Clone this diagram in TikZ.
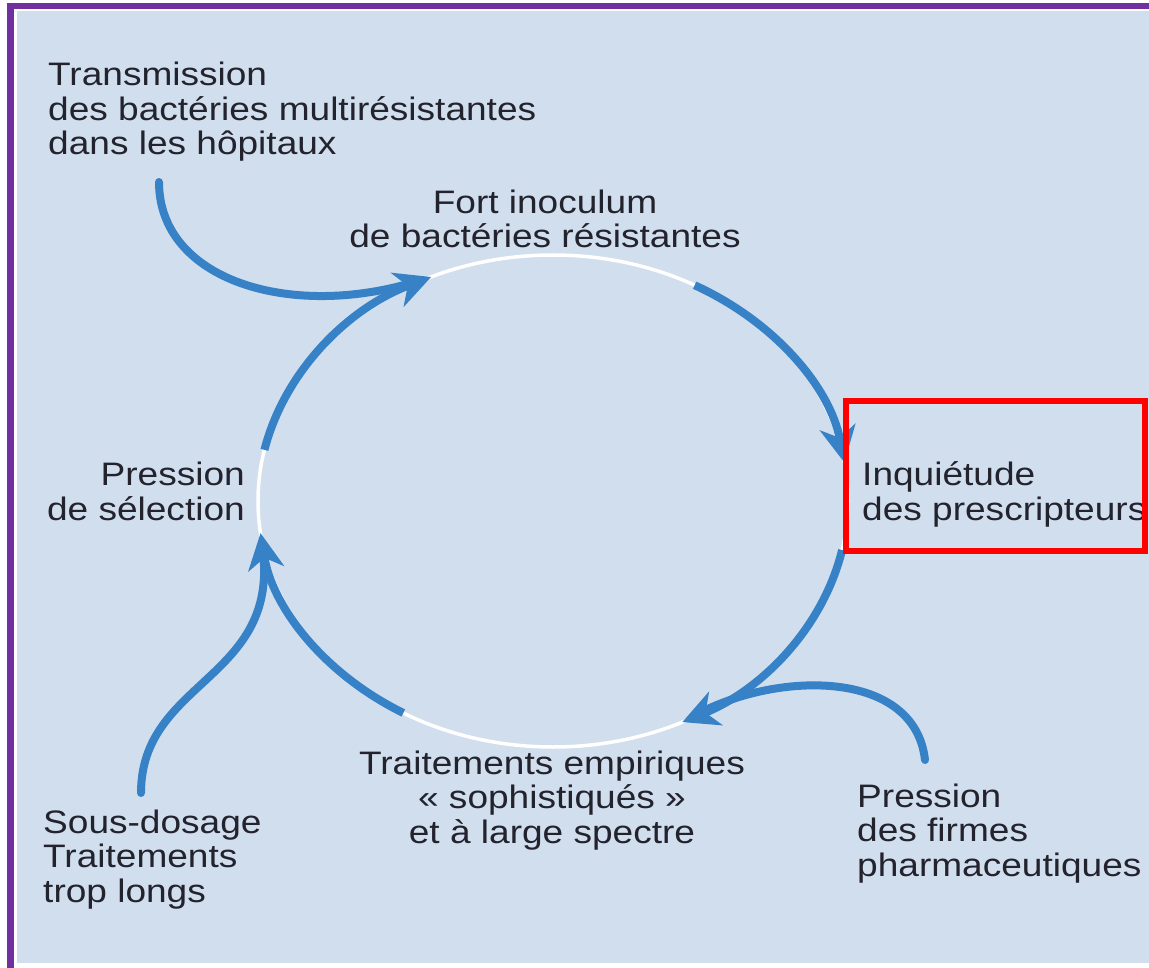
\documentclass[tikz,border=0pt]{standalone}
\usepackage{fontspec}
\setmainfont{Liberation Sans}[FakeStretch=1.14]
\usepackage{tikz}
\usetikzlibrary{arrows.meta, positioning}

\definecolor{panelbg}{RGB}{209,222,238}
\definecolor{cycleblue}{RGB}{55,130,198}
\definecolor{framepurple}{RGB}{112,48,160}
\definecolor{textgray}{RGB}{35,35,45}

\begin{document}
\begin{tikzpicture}[x=1pt, y=1pt,
    lbl/.style={inner sep=0pt, font=\fontsize{32.5}{34.5}\selectfont, text=textgray},
    flow/.style={draw=cycleblue, line width=8pt, -{Stealth[length=36pt, width=36pt, inset=11pt]}},
    feed/.style={draw=cycleblue, line width=8pt, line cap=round, shorten >=16pt},
    gap/.style={draw=white, line width=3.5pt}
]
    % frame and background
    \useasboundingbox (0,0) rectangle (1149,-968);
    \fill[white] (0,0) rectangle (1149,-968);
    \fill[panelbg] (17,-11) rectangle (1149,-963);
    \fill[framepurple] (7,-3) rectangle (14,-968);
    \fill[framepurple] (7,-3) rectangle (1149,-9.5);

    % the cycle
    \coordinate (cyc) at (553,-501);
    \draw[gap] (cyc) ellipse [x radius=295pt, y radius=246pt];
    \draw[flow] (cyc) ++(168:295pt and 246pt) arc[start angle=168, end angle=114.4, x radius=295pt, y radius=246pt] coordinate (tipA);
    \draw[flow] (cyc) ++(61.3:295pt and 246pt) arc[start angle=61.3, end angle=9, x radius=295pt, y radius=246pt] coordinate (tipB);
    \draw[flow] (cyc) ++(-11.5:295pt and 246pt) arc[start angle=-11.5, end angle=-64, x radius=295pt, y radius=246pt] coordinate (tipC);
    \draw[flow] (cyc) ++(-120.5:295pt and 246pt) arc[start angle=-120.5, end angle=-172.5, x radius=295pt, y radius=246pt] coordinate (tipD);

    % stages
    \node[lbl, anchor=base, align=center] (inoculum) at (545,-248) {Fort inoculum\\de bactéries résistantes};
    \node[lbl, anchor=base west, align=left] (inquietude) at (862,-520) {Inquiétude\\des prescripteurs};
    \node[lbl, anchor=base, align=center] (traitements) at (552,-843) {Traitements empiriques\\« sophistiqués »\\et à large spectre};
    \node[lbl, anchor=base east, align=right] (selection) at (245,-520) {Pression\\de sélection};
    \draw[red, line width=6pt] (845.5,-401) rectangle (1144.5,-551);

    % outside factors
    \node[lbl, anchor=base west, align=left] (transmission) at (48,-155) {Transmission\\des bactéries multirésistantes\\dans les hôpitaux};
    \node[lbl, anchor=base west, align=left] (firmes) at (857,-876) {Pression\\des firmes\\pharmaceutiques};
    \node[lbl, anchor=base west, align=left] (sousdosage) at (43,-902) {Sous-dosage\\Traitements\\trop longs};
    \coordinate (transstart) at (159,-182);
    \coordinate (firmstart) at (925,-760);
    \coordinate (sousstart) at (141,-793);
    \draw[feed] (transstart) .. controls (159,-280) and (290,-320) .. (tipA);
    \draw[feed] (firmstart) .. controls (915,-670) and (780,-670) .. (tipC);
    \draw[feed] (sousstart) .. controls (141,-680) and (280,-680) .. (tipD);
\end{tikzpicture}
\end{document}
